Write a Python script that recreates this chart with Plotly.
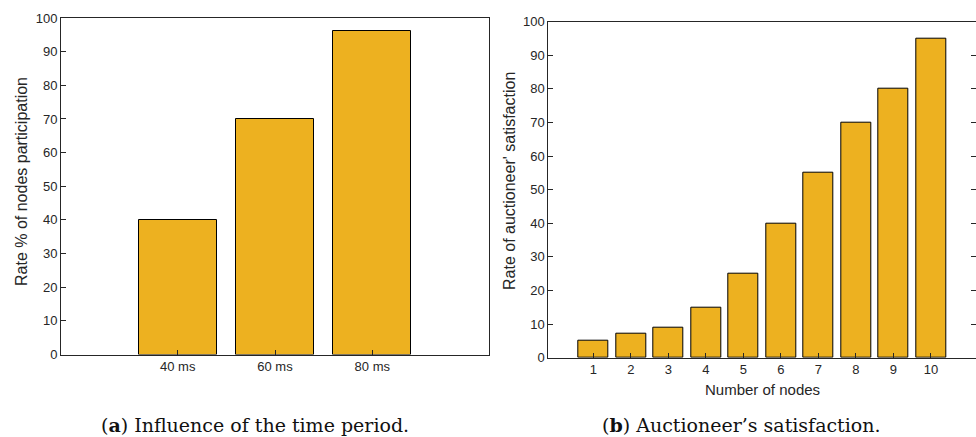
import plotly.graph_objects as go

W, H = 976, 437

# Data
periods = ["40 ms", "60 ms", "80 ms"]
participation = [40, 70, 96]

nodes = [1, 2, 3, 4, 5, 6, 7, 8, 9, 10]
satisfaction = [5, 7, 9, 15, 25, 40, 55, 70, 80, 95]

y_ticks = [0, 10, 20, 30, 40, 50, 60, 70, 80, 90, 100]

BAR = "#EDB120"
AX = "#262626"
TICKFONT = dict(family="Liberation Sans, Arial, sans-serif", size=13, color=AX)
TITLEFONT = dict(family="Liberation Sans, Arial, sans-serif", size=15, color=AX)
YTITLEFONT = dict(family="Liberation Sans, Arial, sans-serif", size=16, color=AX)
CAPFONT = dict(family="DejaVu Serif, serif", size=19, color="#111111")

def px_x(p):
    return p / W

def px_y(p):
    return (H - p) / H

fig = go.Figure()

pos_a = list(range(1, len(periods) + 1))
fig.add_trace(go.Bar(
    x=pos_a, y=participation, width=0.8,
    marker=dict(color=BAR, line=dict(color="black", width=1)),
    xaxis="x", yaxis="y", showlegend=False,
))
fig.add_trace(go.Bar(
    x=nodes, y=satisfaction, width=0.8,
    marker=dict(color=BAR, line=dict(color="black", width=1)),
    xaxis="x2", yaxis="y2", showlegend=False,
))

common = dict(
    showgrid=False, zeroline=False, showline=True, linecolor=AX, linewidth=1,
    ticks="inside", ticklen=5, tickwidth=1, tickcolor=AX, tickfont=TICKFONT,
)

fig.update_layout(
    width=W, height=H,
    margin=dict(l=0, r=0, t=0, b=0, autoexpand=False),
    paper_bgcolor="white", plot_bgcolor="white",
    bargap=0,
    xaxis=dict(domain=[px_x(61), px_x(489)], anchor="y", range=[-0.2, 4.2],
               tickvals=pos_a, ticktext=periods, mirror=True, **common),
    yaxis=dict(domain=[px_y(354.5), px_y(18)], anchor="x", range=[0, 100],
               tickvals=y_ticks, mirror=True, **common),
    xaxis2=dict(domain=[px_x(548.3), 1.0], anchor="y2", range=[-0.2, 11.2],
                tickvals=nodes, ticktext=[str(n) for n in nodes], mirror=True, **common),
    yaxis2=dict(domain=[px_y(357.7), px_y(21.7)], anchor="x2", range=[0, 100],
                tickvals=y_ticks, mirror="ticks", **common),
    annotations=[
        dict(text="Rate % of nodes participation", x=px_x(21), y=px_y(182),
             xref="paper", yref="paper", textangle=-90, showarrow=False,
             xanchor="center", yanchor="middle", font=YTITLEFONT),
        dict(text="Rate of auctioneer' satisfaction", x=px_x(509), y=px_y(181),
             xref="paper", yref="paper", textangle=-90, showarrow=False,
             xanchor="center", yanchor="middle", font=YTITLEFONT),
        dict(text="Number of nodes", x=px_x(762), y=px_y(389),
             xref="paper", yref="paper", showarrow=False,
             xanchor="center", yanchor="middle", font=TITLEFONT),
        dict(text="(<b>a</b>) Influence of the time period.", x=px_x(255), y=px_y(425),
             xref="paper", yref="paper", showarrow=False,
             xanchor="center", yanchor="middle", font=CAPFONT),
        dict(text="(<b>b</b>) Auctioneer’s satisfaction.", x=px_x(741.5), y=px_y(425),
             xref="paper", yref="paper", showarrow=False,
             xanchor="center", yanchor="middle", font=CAPFONT),
    ],
)

fig.write_html("out.html")
